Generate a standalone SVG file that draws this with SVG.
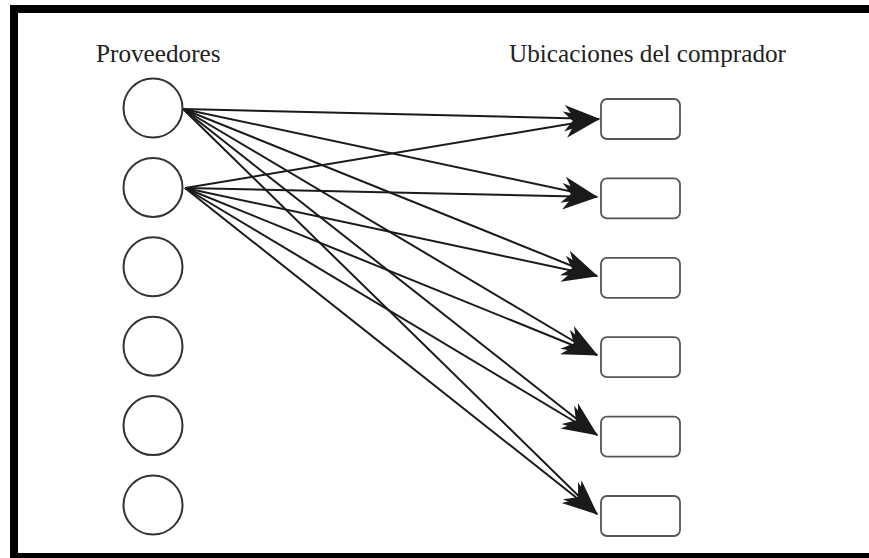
<svg xmlns="http://www.w3.org/2000/svg" width="869" height="558" viewBox="0 0 869 558">
<style>
.lbl{font-family:"Liberation Serif","Times New Roman",serif;font-size:25.2px;fill:#222}
.sup{fill:#fff;stroke:#333;stroke-width:2}
.loc{fill:#fff;stroke:#555;stroke-width:1.8}
.edge{stroke:#1a1a1a;stroke-width:2;fill:none;marker-end:url(#ah)}
</style>
<defs>
<marker id="ah" markerUnits="userSpaceOnUse" markerWidth="40" markerHeight="30" viewBox="-32 -13 34 26" refX="0" refY="0" orient="auto">
<path d="M1,0 L-30,-11.5 L-21,0 L-30,11.5 Z" fill="#1a1a1a"/>
</marker>
</defs>
<rect width="869" height="558" fill="#fff"/>
<g id="frame" fill="#000">
<rect x="10" y="5" width="859" height="8"/>
<rect x="10" y="5" width="8" height="553"/>
<rect x="10" y="553" width="859" height="5"/>
</g>
<text class="lbl" x="96" y="62">Proveedores</text>
<text class="lbl" x="509" y="62">Ubicaciones del comprador</text>
<g id="connectors">
<line class="edge" x1="183" y1="109" x2="599" y2="119"/>
<line class="edge" x1="183" y1="109" x2="597" y2="197"/>
<line class="edge" x1="183" y1="109" x2="597" y2="276"/>
<line class="edge" x1="183" y1="109" x2="597" y2="355"/>
<line class="edge" x1="183" y1="109" x2="597" y2="435"/>
<line class="edge" x1="183" y1="109" x2="597" y2="514"/>
<line class="edge" x1="185" y1="188" x2="599" y2="119"/>
<line class="edge" x1="185" y1="188" x2="597" y2="197"/>
<line class="edge" x1="185" y1="188" x2="597" y2="276"/>
<line class="edge" x1="185" y1="188" x2="597" y2="355"/>
<line class="edge" x1="185" y1="188" x2="597" y2="435"/>
<line class="edge" x1="185" y1="188" x2="597" y2="514"/>
</g>
<g id="p1"><circle class="sup" cx="153" cy="108" r="29.5"/></g>
<g id="p2"><circle class="sup" cx="153" cy="187.4" r="29.5"/></g>
<g id="p3"><circle class="sup" cx="153" cy="266.8" r="29.5"/></g>
<g id="p4"><circle class="sup" cx="153" cy="346.2" r="29.5"/></g>
<g id="p5"><circle class="sup" cx="153" cy="425.6" r="29.5"/></g>
<g id="p6"><circle class="sup" cx="153" cy="505" r="29.5"/></g>
<g id="u1"><rect class="loc" x="601" y="99" width="79" height="40" rx="6"/></g>
<g id="u2"><rect class="loc" x="601" y="178.4" width="79" height="40" rx="6"/></g>
<g id="u3"><rect class="loc" x="601" y="257.8" width="79" height="40" rx="6"/></g>
<g id="u4"><rect class="loc" x="601" y="337.2" width="79" height="40" rx="6"/></g>
<g id="u5"><rect class="loc" x="601" y="416.6" width="79" height="40" rx="6"/></g>
<g id="u6"><rect class="loc" x="601" y="496" width="79" height="40" rx="6"/></g>
</svg>
